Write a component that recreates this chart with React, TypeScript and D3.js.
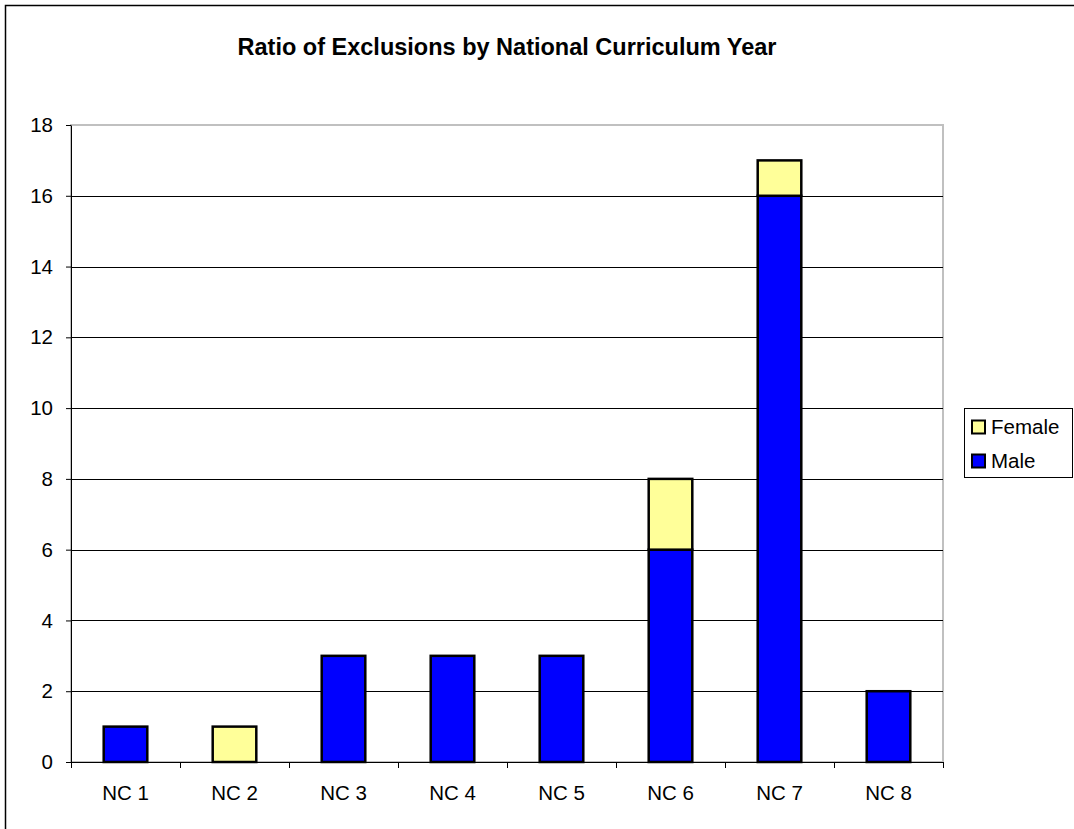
import React, { useEffect, useRef } from "react";
import * as d3 from "d3";

const categories = ["NC 1", "NC 2", "NC 3", "NC 4", "NC 5", "NC 6", "NC 7", "NC 8"];
const maleValues = [1, 0, 3, 3, 3, 6, 16, 2];
const femaleValues = [0, 1, 0, 0, 0, 2, 1, 0];
const yTicks = [0, 2, 4, 6, 8, 10, 12, 14, 16, 18];

const WIDTH = 1074;
const HEIGHT = 829;
const FONT = "'Liberation Sans', Arial, sans-serif";

const App: React.FC = () => {
  const ref = useRef<SVGSVGElement | null>(null);

  useEffect(() => {
    document.body.style.margin = "0";
    if (!ref.current) return;
    ref.current.innerHTML = "";

    const svg = d3.select(ref.current);
    const plot = { left: 71, right: 943, top: 125, bottom: 762 };

    // outer chart border (cropped at right/bottom)
    svg
      .append("rect")
      .attr("x", 5.5)
      .attr("y", 5.5)
      .attr("width", WIDTH + 10)
      .attr("height", HEIGHT + 10)
      .attr("fill", "white")
      .attr("stroke", "#000")
      .attr("stroke-width", 1.5);

    svg
      .append("text")
      .attr("x", 507)
      .attr("y", 55)
      .attr("text-anchor", "middle")
      .attr("font-family", FONT)
      .attr("font-weight", "bold")
      .attr("font-size", 23.5)
      .text("Ratio of Exclusions by National Curriculum Year");

    const x = d3.scaleBand<string>().domain(categories).range([plot.left, plot.right]);
    const y = d3.scaleLinear().domain([0, 18]).range([plot.bottom, plot.top]);

    // plot area border
    svg
      .append("rect")
      .attr("x", plot.left)
      .attr("y", plot.top)
      .attr("width", plot.right - plot.left)
      .attr("height", plot.bottom - plot.top)
      .attr("fill", "white")
      .attr("stroke", "#c0c0c0")
      .attr("stroke-width", 2);

    // gridlines
    svg
      .append("g")
      .selectAll("line")
      .data(yTicks.filter((t) => t > 0 && t < 18))
      .join("line")
      .attr("x1", plot.left)
      .attr("x2", plot.right)
      .attr("y1", (d) => Math.round(y(d)) + 0.5)
      .attr("y2", (d) => Math.round(y(d)) + 0.5)
      .attr("stroke", "#000")
      .attr("stroke-width", 1);

    // bars
    const bw = x.bandwidth() * 0.4;
    const bars = svg.append("g");
    categories.forEach((c, i) => {
      const cx = (x(c) as number) + x.bandwidth() / 2;
      const m = maleValues[i];
      const f = femaleValues[i];
      if (m > 0) {
        bars
          .append("rect")
          .attr("x", cx - bw / 2)
          .attr("y", y(m))
          .attr("width", bw)
          .attr("height", y(0) - y(m))
          .attr("fill", "#0000ff")
          .attr("stroke", "#000")
          .attr("stroke-width", 2.5);
      }
      if (f > 0) {
        bars
          .append("rect")
          .attr("x", cx - bw / 2)
          .attr("y", y(m + f))
          .attr("width", bw)
          .attr("height", y(m) - y(m + f))
          .attr("fill", "#ffff99")
          .attr("stroke", "#000")
          .attr("stroke-width", 2.5);
      }
    });

    // y axis
    const yAxis = svg
      .append("g")
      .attr("transform", `translate(${plot.left},0)`)
      .call(d3.axisLeft(y).tickValues(yTicks).tickSize(5).tickPadding(13).tickSizeOuter(0));
    yAxis.select(".domain").attr("stroke", "#000");
    yAxis
      .selectAll("text")
      .attr("font-family", FONT)
      .attr("font-size", 20.5)
      .attr("fill", "#000");

    // x axis
    const xAxis = svg.append("g").attr("transform", `translate(0,${plot.bottom})`);
    xAxis
      .append("line")
      .attr("x1", plot.left - 5)
      .attr("x2", plot.right)
      .attr("y1", 0.5)
      .attr("y2", 0.5)
      .attr("stroke", "#000");
    const bounds = categories.map((c) => x(c) as number).concat([plot.right]);
    xAxis
      .selectAll("line.tick")
      .data(bounds)
      .join("line")
      .attr("class", "tick")
      .attr("x1", (d) => Math.round(d) + 0.5)
      .attr("x2", (d) => Math.round(d) + 0.5)
      .attr("y1", 0)
      .attr("y2", 6)
      .attr("stroke", "#000");
    xAxis
      .selectAll("text")
      .data(categories)
      .join("text")
      .attr("x", (d) => (x(d) as number) + x.bandwidth() / 2)
      .attr("y", 38)
      .attr("text-anchor", "middle")
      .attr("font-family", FONT)
      .attr("font-size", 20.5)
      .text((d) => d);

    // legend
    const legend = svg.append("g");
    legend
      .append("rect")
      .attr("x", 964.5)
      .attr("y", 408.5)
      .attr("width", 108)
      .attr("height", 69)
      .attr("fill", "white")
      .attr("stroke", "#000")
      .attr("stroke-width", 1);
    const items = [
      { label: "Female", color: "#ffff99" },
      { label: "Male", color: "#0000ff" },
    ];
    items.forEach((it, i) => {
      const cy = 427 + i * 34;
      legend
        .append("rect")
        .attr("x", 972)
        .attr("y", cy - 6.5)
        .attr("width", 13)
        .attr("height", 13)
        .attr("fill", it.color)
        .attr("stroke", "#000")
        .attr("stroke-width", 2);
      legend
        .append("text")
        .attr("x", 991)
        .attr("y", cy + 7)
        .attr("font-family", FONT)
        .attr("font-size", 20.5)
        .text(it.label);
    });
  }, []);

  return <svg ref={ref} width={WIDTH} height={HEIGHT} style={{ display: "block" }} />;
};

export default App;
